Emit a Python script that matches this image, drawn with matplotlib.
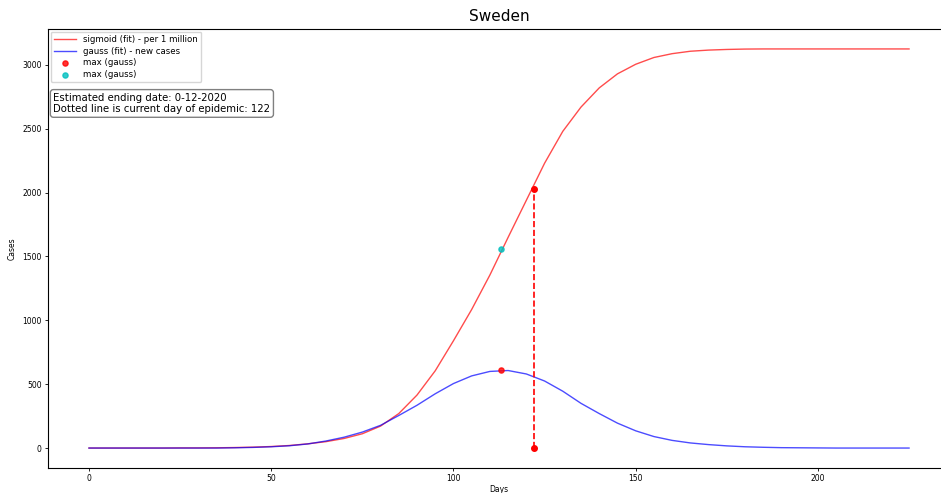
import matplotlib
matplotlib.use("Agg")
import matplotlib.pyplot as plt
import numpy as np

# values, one every 5 days
days = list(range(0, 230, 5))
sigmoid_cases = [0, 0, 0, 0, 0, 1, 1, 2, 4, 7,
                 12, 20, 33, 50, 75, 112, 172, 270, 415, 605,
                 840, 1085, 1355, 1650, 1940, 2230, 2480, 2670, 2820, 2930,
                 3005, 3058, 3088, 3107, 3116, 3121, 3124, 3125, 3125, 3125,
                 3125, 3125, 3125, 3125, 3125, 3125]
gauss_cases = [0, 0, 0, 0, 0, 0, 0, 0, 2, 5,
               10, 18, 32, 55, 85, 125, 178, 255, 335, 425,
               505, 565, 600, 607, 580, 525, 445, 350, 270, 195,
               135, 90, 60, 40, 27, 17, 10, 6, 3, 2,
               1, 0, 0, 0, 0, 0]

peak_day = 113
peak_gauss = 610
peak_sigmoid = 1559
current_day = 122
current_sigmoid = 2030

fig = plt.figure(figsize=(9.41, 4.93), dpi=100)
ax = fig.add_axes([0.051, 0.0507, 0.9586, 0.8905])

ax.plot(days, sigmoid_cases, color='r', alpha=0.7, lw=1, label='sigmoid (fit) - per 1 million')
ax.plot(days, gauss_cases, color='b', alpha=0.7, lw=1, label='gauss (fit) - new cases')
ax.scatter([peak_day], [peak_gauss], color='r', alpha=0.8, s=14, zorder=3, label='max (gauss)')
ax.scatter([peak_day], [peak_sigmoid], color='c', alpha=0.8, s=14, zorder=3, label='max (gauss)')

# current day of epidemic
ax.plot([current_day, current_day], [0, current_sigmoid], 'ro--', lw=1.2, markersize=4)

ax.set_title('Sweden', fontsize=11)
ax.set_xlabel('Days', fontsize=5.5, labelpad=1)
ax.set_ylabel('Cases', fontsize=5.5)
ax.tick_params(labelsize=5.5, length=2.5, width=0.6, pad=2)

ax.legend(loc='upper left', fontsize=6.2, borderaxespad=0.3, handlelength=2.6,
          labelspacing=0.3)
ax.text(0.006, 0.855, 'Estimated ending date: 0-12-2020\nDotted line is current day of epidemic: 122',
        transform=ax.transAxes, va='top', ha='left', fontsize=7.3,
        bbox=dict(boxstyle='round,pad=0.3', fc='white', ec='gray'))

plt.savefig('out.png', dpi=100)
